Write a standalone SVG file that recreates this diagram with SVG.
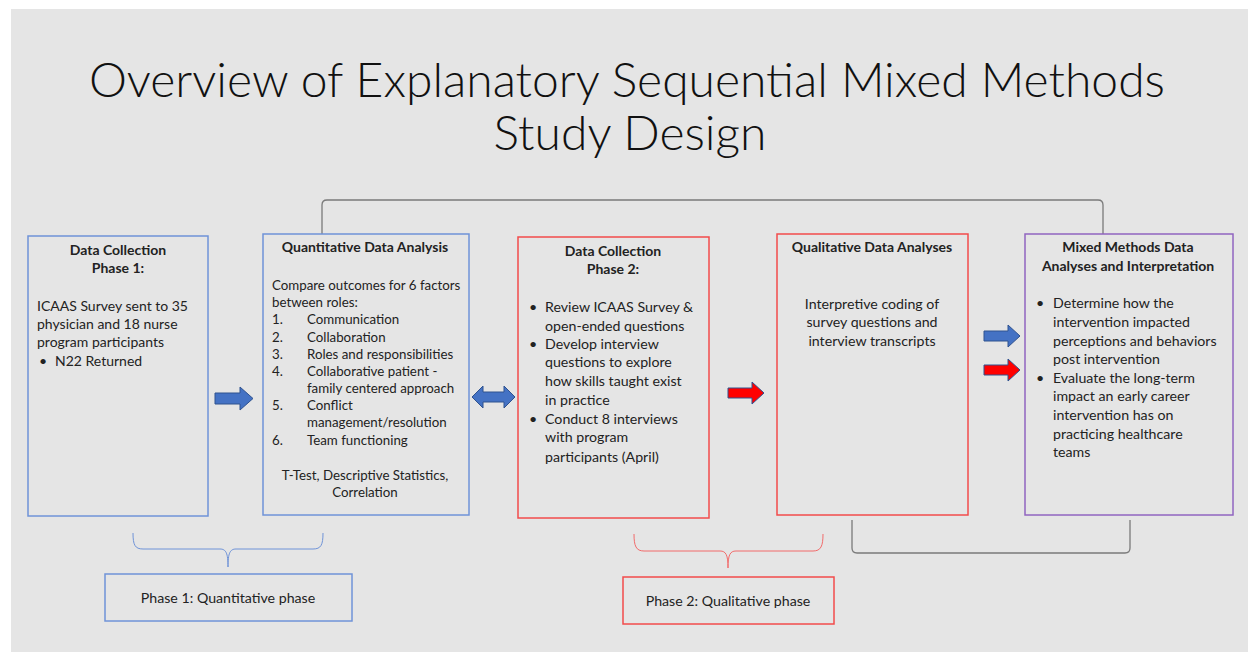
<svg xmlns="http://www.w3.org/2000/svg" width="1248" height="652" viewBox="0 0 1248 652">
<defs>
<style>
.t{font-family:Lato,"Liberation Sans",sans-serif;fill:#222;}
.title{font-family:Lato,"Liberation Sans",sans-serif;font-weight:300;font-size:48px;fill:#111;text-anchor:middle;}
.h{font-weight:bold;font-size:14px;text-anchor:middle;}
.b1{font-size:14px;}
.b2{font-size:13.3px;}
.b3{font-size:14.2px;}
.c{text-anchor:middle;}
.bx{fill:none;stroke-width:1.5;}
.blue{stroke:#6f93d8;}
.red{stroke:#f24b4b;}
.purple{stroke:#9064c0;}
.arB{fill:#4472c4;stroke:#2f528f;stroke-width:1;}
.arR{fill:#ff0000;stroke:#2f528f;stroke-width:1;}
.gl{fill:none;stroke:#7a7a7a;stroke-width:1.3;}
.brB{fill:none;stroke:#6f93d8;stroke-width:1;}
.brR{fill:none;stroke:#f26b6b;stroke-width:1;}
</style>
</defs>
<rect x="0" y="0" width="1248" height="652" fill="#ffffff"/>
<rect x="11" y="9" width="1237" height="643" fill="#e5e5e5"/>

<g id="title">
<text class="title" x="627" y="97">Overview of Explanatory Sequential Mixed Methods</text>
<text class="title" x="630" y="150">Study Design</text>
</g>

<g id="connectors">
<path class="gl" d="M322,234 V205 Q322,200 327,200 H1098 Q1103,200 1103,205 V234"/>
<path class="gl" d="M852,520 V548 Q852,553 857,553 H1125 Q1130,553 1130,548 V520"/>
<path class="arB" d="M215,393 H240 V387 L253,398.5 L240,410 V404 H215 Z"/>
<path class="arB" d="M472,397 L483,386 V392 H504 V386 L515,397 L504,408 V402 H483 V408 Z"/>
<path class="arR" d="M728,388 H752 V382 L764,393 L752,404 V398 H728 Z"/>
<path class="arB" d="M984,331 H1008 V325 L1020,336 L1008,347 V341 H984 Z"/>
<path class="arR" d="M984,365 H1008 V359 L1020,370 L1008,381 V375 H984 Z"/>
<path class="brB" d="M133,533 C133,545 135,549 143,549 H220 C226,549 228,553 228,567 C228,553 230,549 236,549 H313 C321,549 323,545 323,533"/>
<path class="brR" d="M634,534 C634,546 636,551 644,551 H720 C726,551 728,555 728,568 C728,555 730,551 736,551 H813 C821,551 823,546 823,534"/>
</g>

<g id="node-dc1">
<rect class="bx blue" x="28" y="236" width="180" height="280"/>
<text class="t h" x="118" y="255">Data Collection</text>
<text class="t h" x="118" y="273">Phase 1:</text>
<text class="t b1" x="37" y="311">ICAAS Survey sent to 35</text>
<text class="t b1" x="37" y="329">physician and 18 nurse</text>
<text class="t b1" x="37" y="347">program participants</text>
<text class="t b1" x="39" y="366">•</text>
<text class="t b1" x="55" y="366">N22 Returned</text>
</g>

<g id="node-qda">
<rect class="bx blue" x="263" y="234" width="206" height="281"/>
<text class="t h" x="365" y="252">Quantitative Data Analysis</text>
<text class="t b2" x="272" y="290">Compare outcomes for 6 factors</text>
<text class="t b2" x="272" y="307">between roles:</text>
<text class="t b2" x="272" y="324">1.</text><text class="t b2" x="307" y="324">Communication</text>
<text class="t b2" x="272" y="342">2.</text><text class="t b2" x="307" y="342">Collaboration</text>
<text class="t b2" x="272" y="359">3.</text><text class="t b2" x="307" y="359">Roles and responsibilities</text>
<text class="t b2" x="272" y="376">4.</text><text class="t b2" x="307" y="376">Collaborative patient -</text>
<text class="t b2" x="307" y="393">family centered approach</text>
<text class="t b2" x="272" y="410">5.</text><text class="t b2" x="307" y="410">Conflict</text>
<text class="t b2" x="307" y="427">management/resolution</text>
<text class="t b2" x="272" y="445">6.</text><text class="t b2" x="307" y="445">Team functioning</text>
<text class="t b2 c" x="365" y="480">T-Test, Descriptive Statistics,</text>
<text class="t b2 c" x="365" y="497">Correlation</text>
</g>

<g id="node-dc2">
<rect class="bx red" x="518" y="237" width="191" height="281"/>
<text class="t h" x="613" y="256">Data Collection</text>
<text class="t h" x="613" y="274">Phase 2:</text>
<text class="t b3" x="529" y="312">•</text>
<text class="t b3" x="545" y="312">Review ICAAS Survey &amp;</text>
<text class="t b3" x="545" y="331">open-ended questions</text>
<text class="t b3" x="529" y="349">•</text>
<text class="t b3" x="545" y="349">Develop interview</text>
<text class="t b3" x="545" y="367">questions to explore</text>
<text class="t b3" x="545" y="386">how skills taught exist</text>
<text class="t b3" x="545" y="405">in practice</text>
<text class="t b3" x="529" y="424">•</text>
<text class="t b3" x="545" y="424">Conduct 8 interviews</text>
<text class="t b3" x="545" y="442">with program</text>
<text class="t b3" x="545" y="462">participants (April)</text>
</g>

<g id="node-qual">
<rect class="bx red" x="777" y="234" width="191" height="281"/>
<text class="t h" x="872" y="252">Qualitative Data Analyses</text>
<text class="t b3 c" x="872" y="309">Interpretive coding of</text>
<text class="t b3 c" x="872" y="327">survey questions and</text>
<text class="t b3 c" x="872" y="346">interview transcripts</text>
</g>

<g id="node-mixed">
<rect class="bx purple" x="1025" y="234" width="208" height="281"/>
<text class="t h" x="1128" y="252">Mixed Methods Data</text>
<text class="t h" x="1128" y="271">Analyses and Interpretation</text>
<text class="t b3" x="1036" y="308">•</text>
<text class="t b3" x="1053" y="308">Determine how the</text>
<text class="t b3" x="1053" y="327">intervention impacted</text>
<text class="t b3" x="1053" y="346">perceptions and behaviors</text>
<text class="t b3" x="1053" y="364">post intervention</text>
<text class="t b3" x="1036" y="383">•</text>
<text class="t b3" x="1053" y="383">Evaluate the long-term</text>
<text class="t b3" x="1053" y="401">impact an early career</text>
<text class="t b3" x="1053" y="420">intervention has on</text>
<text class="t b3" x="1053" y="439">practicing healthcare</text>
<text class="t b3" x="1053" y="457">teams</text>
</g>

<g id="node-phase1">
<rect class="bx blue" x="105" y="574" width="247" height="47"/>
<text class="t b3 c" x="228" y="603">Phase 1: Quantitative phase</text>
</g>

<g id="node-phase2">
<rect class="bx red" x="623" y="577" width="211" height="47"/>
<text class="t b3 c" x="728" y="606">Phase 2: Qualitative phase</text>
</g>
</svg>
